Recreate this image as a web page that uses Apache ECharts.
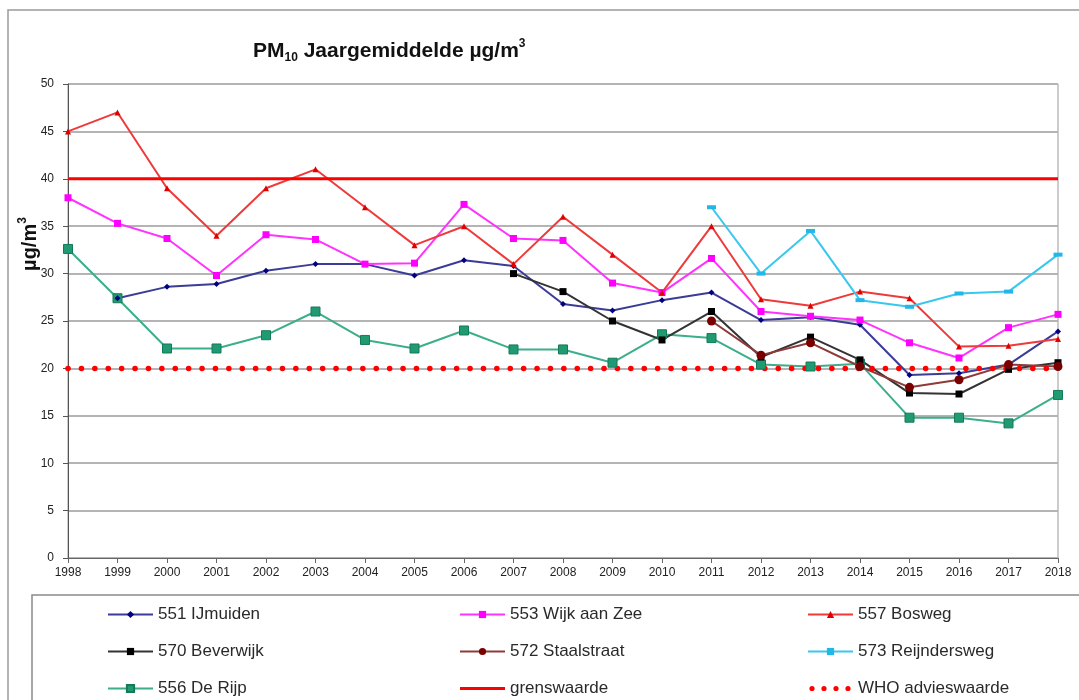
<!DOCTYPE html>
<html>
<head>
<meta charset="utf-8">
<script src="https://cdn.jsdelivr.net/npm/echarts@6/dist/echarts.min.js"></script>
<style>
html,body{margin:0;padding:0;background:#fff;}
#c{width:1079px;height:700px;}
</style>
</head>
<body>
<div id="c"></div>
<script>
const years = ['1998','1999','2000','2001','2002','2003','2004','2005','2006','2007','2008','2009','2010','2011','2012','2013','2014','2015','2016','2017','2018'];
const yTicks = [0,5,10,15,20,25,30,35,40,45,50];

const ijmuiden     = [null,27.4,28.6,28.9,30.3,31.0,31.0,29.8,31.4,30.8,26.8,26.1,27.2,28.0,25.1,25.4,24.6,19.3,19.5,20.4,23.9];
const wijkAanZee   = [38.0,35.3,33.7,29.8,34.1,33.6,31.0,31.1,37.3,33.7,33.5,29.0,28.0,31.6,26.0,25.5,25.1,22.7,21.1,24.3,25.7];
const bosweg       = [45.0,47.0,39.0,34.0,39.0,41.0,37.0,33.0,35.0,31.0,36.0,32.0,28.0,35.0,27.3,26.6,28.1,27.4,22.3,22.4,23.1];
const beverwijk    = [null,null,null,null,null,null,null,null,null,30.0,28.1,25.0,23.0,26.0,21.2,23.3,20.9,17.4,17.3,19.9,20.6];
const staalstraat  = [null,null,null,null,null,null,null,null,null,null,null,null,null,25.0,21.4,22.7,20.2,18.0,18.8,20.4,20.2];
const reijndersweg = [null,null,null,null,null,null,null,null,null,null,null,null,null,37.0,30.0,34.5,27.2,26.5,27.9,28.1,32.0];
const deRijp       = [32.6,27.4,22.1,22.1,23.5,26.0,23.0,22.1,24.0,22.0,22.0,20.6,23.6,23.2,20.4,20.2,20.5,14.8,14.8,14.2,17.2];
const grenswaarde  = [40,40,40,40,40,40,40,40,40,40,40,40,40,40,40,40,40,40,40,40,40];
const whoAdvies    = [20,20,20,20,20,20,20,20,20,20,20,20,20,20,20,20,20,20,20,20,20];

const FONT = '"Liberation Sans", Arial, sans-serif';

function lineSeries(name, data, lineColor, markColor, symbol, size, borderColor) {
  return {
    name: name, type: 'line', data: data,
    symbol: symbol, symbolSize: size, showSymbol: true,
    lineStyle: {color: lineColor, width: 2},
    itemStyle: {color: markColor, borderColor: borderColor || markColor, borderWidth: borderColor ? 1 : 0},
    emphasis: {disabled: true},
    animation: false
  };
}

// legend icons for the two reference lines (bounding points keep proportions)
const ICON_LINE = 'path://M0,0 M45,9 M0,3 L45,3 L45,6 L0,6 Z';
function dot(cx) { return 'M' + (cx - 2.6) + ',4.5 a2.6,2.6 0 1,0 5.2,0 a2.6,2.6 0 1,0 -5.2,0 '; }
const ICON_DOTS = 'path://M0,0 M45,9 ' + dot(4) + dot(16) + dot(28) + dot(40);

const chart = echarts.init(document.getElementById('c'), null, {renderer: 'canvas'});
const legendBase = {
  orient: 'vertical', itemWidth: 45, itemHeight: 9, itemGap: 20, height: 140,
  padding: 0,
  textStyle: {fontSize: 17, fontFamily: FONT, color: '#2a2a2a'},
  selectedMode: false
};
chart.setOption({
  backgroundColor: '#fff',
  animation: false,
  title: {
    text: '{b|PM}{sub|10}{b| Jaargemiddelde µg/m}{sup|3}',
    left: 248, top: 33,
    textStyle: {
      rich: {
        b: {fontSize: 21, fontWeight: 'bold', fontFamily: FONT, color: '#111', lineHeight: 26},
        sub: {fontSize: 12, fontWeight: 'bold', fontFamily: FONT, color: '#111', lineHeight: 14, verticalAlign: 'bottom'},
        sup: {fontSize: 12, fontWeight: 'bold', fontFamily: FONT, color: '#111', lineHeight: 14, verticalAlign: 'top'}
      }
    }
  },
  grid: {left: 68, right: 21, top: 84, bottom: 142, show: true, borderColor: '#999', borderWidth: 1, containLabel: false},
  xAxis: {
    type: 'category', data: years, boundaryGap: false,
    axisLine: {show: true, lineStyle: {color: '#666', width: 1}},
    axisTick: {show: true, alignWithLabel: true, length: 5, lineStyle: {color: '#666'}},
    axisLabel: {fontSize: 12, fontFamily: FONT, color: '#222', margin: 9, interval: 0},
    splitLine: {show: false}
  },
  yAxis: {
    type: 'value', min: yTicks[0], max: yTicks[yTicks.length - 1], interval: 5,
    axisLine: {show: true, lineStyle: {color: '#555', width: 1}},
    axisTick: {show: true, length: 5, lineStyle: {color: '#555'}},
    axisLabel: {fontSize: 12, fontFamily: FONT, color: '#222', margin: 14},
    splitLine: {show: true, lineStyle: {color: '#b4b4b4', width: 2}}
  },
  legend: [
    Object.assign({left: 107, top: 606, data: ['551 IJmuiden', '570 Beverwijk', '556 De Rijp']}, legendBase),
    Object.assign({left: 459, top: 606, data: ['553 Wijk aan Zee', '572 Staalstraat', {name: 'grenswaarde', icon: ICON_LINE, itemStyle: {color: '#ff0000'}}]}, legendBase),
    Object.assign({left: 807, top: 606, data: ['557 Bosweg', '573 Reijndersweg', {name: 'WHO advieswaarde', icon: ICON_DOTS, itemStyle: {color: '#ff0000'}}]}, legendBase)
  ],
  graphic: [
    {type: 'rect', shape: {x: 8, y: 10, width: 1200, height: 800}, style: {fill: 'none', stroke: '#9a9a9a', lineWidth: 1.5}, silent: true, z: 0},
    {type: 'rect', shape: {x: 32, y: 595, width: 1200, height: 300}, style: {fill: 'none', stroke: '#8a8a8a', lineWidth: 1.5}, silent: true, z: 0},
    {
      type: 'text', x: 30, y: 244, rotation: Math.PI / 2, silent: true,
      style: {
        text: '{b|µg/m}{sup|3}', align: 'center', verticalAlign: 'middle',
        rich: {
          b: {fontSize: 20, fontWeight: 'bold', fontFamily: FONT, fill: '#111', lineHeight: 26},
          sup: {fontSize: 12, fontWeight: 'bold', fontFamily: FONT, fill: '#111', lineHeight: 14, verticalAlign: 'top'}
        }
      }
    }
  ],
  series: [
    lineSeries('556 De Rijp', deRijp, '#3cae8c', '#1f9a72', 'rect', 9, '#157a58'),
    lineSeries('551 IJmuiden', ijmuiden, '#3b3b98', '#000080', 'diamond', 6),
    lineSeries('553 Wijk aan Zee', wijkAanZee, '#ff33ff', '#ff00ff', 'rect', 7),
    lineSeries('557 Bosweg', bosweg, '#ee3a3a', '#e00000', 'triangle', 6),
    lineSeries('570 Beverwijk', beverwijk, '#333333', '#000000', 'rect', 7),
    lineSeries('572 Staalstraat', staalstraat, '#8e3a3a', '#7a0000', 'circle', 9),
    lineSeries('573 Reijndersweg', reijndersweg, '#38c8ee', '#20b8e8', 'rect', [9, 4]),
    {
      name: 'grenswaarde', type: 'line', data: grenswaarde, symbol: 'none', showSymbol: false,
      lineStyle: {color: '#ff0000', width: 3}, itemStyle: {color: '#ff0000'}, emphasis: {disabled: true}, z: 3
    },
    {
      name: 'WHO advieswaarde', type: 'line', data: whoAdvies, symbol: 'none', showSymbol: false,
      lineStyle: {color: '#ff0000', width: 5.5, type: [0.1, 13.3], cap: 'round'}, itemStyle: {color: '#ff0000'}, emphasis: {disabled: true}, z: 3
    }
  ]
});
</script>
</body>
</html>
